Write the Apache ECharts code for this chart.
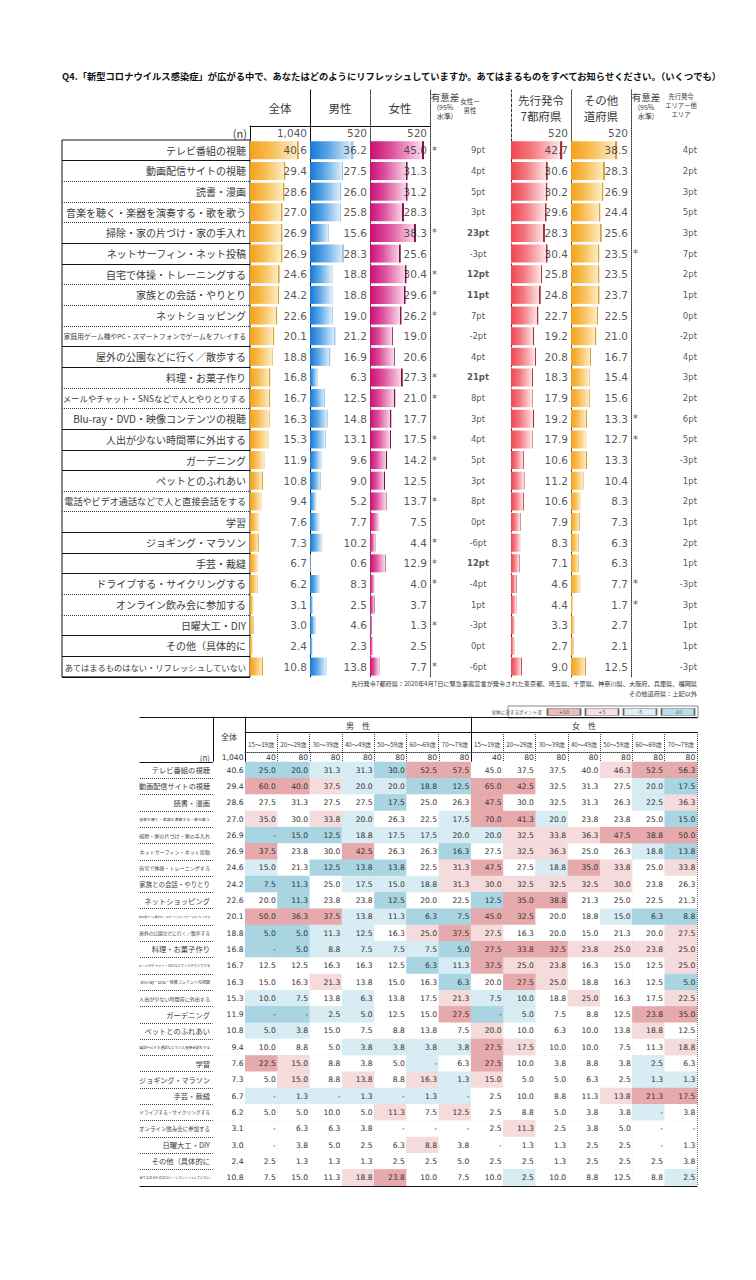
<!DOCTYPE html>
<html><head><meta charset="utf-8">
<script src="https://cdn.jsdelivr.net/npm/echarts@6/dist/echarts.min.js"></script>
<style>html,body{margin:0;padding:0;background:#fff}#c{width:756px;height:1280px}</style>
</head><body><div id="c"></div>
<script>
// ---------------- DATA ----------------
const TITLE = 'Q4.「新型コロナウイルス感染症」が広がる中で、あなたはどのようにリフレッシュしていますか。あてはまるものをすべてお知らせください。（いくつでも）';
const NOTE1 = '先行発令7都府県：2020年4月7日に緊急事態宣言が発令された東京都、埼玉県、千葉県、神奈川県、大阪府、兵庫県、福岡県';
const NOTE2 = 'その他道府県：上記以外';
const ITEMS = ['テレビ番組の視聴','動画配信サイトの視聴','読書・漫画','音楽を聴く・楽器を演奏する・歌を歌う','掃除・家の片づけ・家の手入れ','ネットサーフィン・ネット投稿','自宅で体操・トレーニングする','家族との会話・やりとり','ネットショッピング','家庭用ゲーム機やPC・スマートフォンでゲームをプレイする','屋外の公園などに行く／散歩する','料理・お菓子作り','メールやチャット・SNSなどで人とやりとりする','Blu-ray・DVD・映像コンテンツの視聴','人出が少ない時間帯に外出する','ガーデニング','ペットとのふれあい','電話やビデオ通話などで人と直接会話をする','学習','ジョギング・マラソン','手芸・裁縫','ドライブする・サイクリングする','オンライン飲み会に参加する','日曜大工・DIY','その他（具体的に','あてはまるものはない・リフレッシュしていない'];
const HEAD_UPPER = ['全体','男性','女性','先行発令\n7都府県','その他\n道府県'];
const N_UPPER = [1040, 520, 520, 520, 520];
const TOTAL  = [40.6,29.4,28.6,27.0,26.9,26.9,24.6,24.2,22.6,20.1,18.8,16.8,16.7,16.3,15.3,11.9,10.8,9.4,7.6,7.3,6.7,6.2,3.1,3.0,2.4,10.8];
const MALE   = [36.2,27.5,26.0,25.8,15.6,28.3,18.8,18.8,19.0,21.2,16.9,6.3,12.5,14.8,13.1,9.6,9.0,5.2,7.7,10.2,0.6,8.3,2.5,4.6,2.3,13.8];
const FEMALE = [45.0,31.3,31.2,28.3,38.3,25.6,30.4,29.6,26.2,19.0,20.6,27.3,21.0,17.7,17.5,14.2,12.5,13.7,7.5,4.4,12.9,4.0,3.7,1.3,2.5,7.7];
const SIG_GENDER  = [1,0,0,0,1,0,1,1,1,0,0,1,1,0,1,1,0,1,0,1,1,1,0,1,0,1];
const DIFF_GENDER = [9,4,5,3,23,-3,12,11,7,-2,4,21,8,3,4,5,3,8,0,-6,12,-4,1,-3,0,-6];
const PREF   = [42.7,30.6,30.2,29.6,28.3,30.4,25.8,24.8,22.7,19.2,20.8,18.3,17.9,19.2,17.9,10.6,11.2,10.6,7.9,8.3,7.1,4.6,4.4,3.3,2.7,9.0];
const OTHER  = [38.5,28.3,26.9,24.4,25.6,23.5,23.5,23.7,22.5,21.0,16.7,15.4,15.6,13.3,12.7,13.3,10.4,8.3,7.3,6.3,6.3,7.7,1.7,2.7,2.1,12.5];
const SIG_AREA  = [0,0,0,0,0,1,0,0,0,0,0,0,0,1,1,0,0,0,0,0,0,1,1,0,0,0];
const DIFF_AREA = [4,2,3,5,3,7,2,1,0,-2,4,3,2,6,5,-3,1,2,1,2,1,-3,3,1,1,-3];

const AGE_LABELS = ['15～19歳','20～29歳','30～39歳','40～49歳','50～59歳','60～69歳','70～79歳'];
const GROUP_LABELS = ['男　性','女　性'];
const N_LOWER = [1040, 40,80,80,80,80,80,80, 40,80,80,80,80,80,80];
const MALE_AGE = [
[25.0,20.0,31.3,31.3,30.0,52.5,57.5],[60.0,40.0,37.5,20.0,20.0,18.8,12.5],[27.5,31.3,27.5,27.5,17.5,25.0,26.3],
[35.0,30.0,33.8,20.0,26.3,22.5,17.5],[null,15.0,12.5,18.8,17.5,17.5,20.0],[37.5,23.8,30.0,42.5,26.3,26.3,16.3],
[15.0,21.3,12.5,13.8,13.8,22.5,31.3],[7.5,11.3,25.0,17.5,15.0,18.8,31.3],[20.0,11.3,23.8,23.8,12.5,20.0,22.5],
[50.0,36.3,37.5,13.8,11.3,6.3,7.5],[5.0,5.0,11.3,12.5,16.3,25.0,37.5],[null,5.0,8.8,7.5,7.5,7.5,5.0],
[12.5,12.5,16.3,16.3,12.5,6.3,11.3],[15.0,16.3,21.3,13.8,15.0,16.3,6.3],[10.0,7.5,13.8,6.3,13.8,17.5,21.3],
[null,null,2.5,5.0,12.5,15.0,27.5],[5.0,3.8,15.0,7.5,8.8,13.8,7.5],[10.0,8.8,5.0,3.8,3.8,3.8,3.8],
[22.5,15.0,8.8,3.8,5.0,null,6.3],[5.0,15.0,8.8,13.8,8.8,16.3,1.3],[null,1.3,null,1.3,null,1.3,null],
[5.0,5.0,10.0,5.0,11.3,7.5,12.5],[null,6.3,6.3,3.8,null,null,null],[null,3.8,5.0,2.5,6.3,8.8,3.8],
[2.5,1.3,1.3,1.3,2.5,2.5,5.0],[7.5,15.0,11.3,18.8,23.8,10.0,7.5]];
const FEMALE_AGE = [
[45.0,37.5,37.5,40.0,46.3,52.5,56.3],[65.0,42.5,32.5,31.3,27.5,20.0,17.5],[47.5,30.0,32.5,31.3,26.3,22.5,36.3],
[70.0,41.3,20.0,23.8,23.8,25.0,15.0],[20.0,32.5,33.8,36.3,47.5,38.8,50.0],[27.5,32.5,36.3,25.0,26.3,18.8,13.8],
[47.5,27.5,18.8,35.0,33.8,25.0,33.8],[30.0,32.5,32.5,32.5,30.0,23.8,26.3],[12.5,35.0,38.8,21.3,25.0,22.5,21.3],
[45.0,32.5,20.0,18.8,15.0,6.3,8.8],[27.5,16.3,20.0,15.0,21.3,20.0,27.5],[27.5,33.8,32.5,23.8,25.0,23.8,25.0],
[37.5,25.0,23.8,16.3,15.0,12.5,25.0],[20.0,27.5,25.0,18.8,16.3,12.5,5.0],[7.5,10.0,18.8,25.0,16.3,17.5,22.5],
[null,5.0,7.5,8.8,12.5,23.8,35.0],[20.0,10.0,6.3,10.0,13.8,18.8,12.5],[27.5,17.5,10.0,10.0,7.5,11.3,18.8],
[27.5,10.0,3.8,8.8,3.8,2.5,6.3],[15.0,5.0,5.0,6.3,2.5,1.3,1.3],[2.5,10.0,8.8,11.3,13.8,21.3,17.5],
[2.5,8.8,5.0,3.8,3.8,null,3.8],[2.5,11.3,2.5,3.8,5.0,null,null],[null,1.3,1.3,2.5,2.5,null,1.3],
[2.5,2.5,1.3,2.5,2.5,2.5,3.8],[10.0,2.5,10.0,8.8,12.5,8.8,2.5]];
const LEGEND_TITLE = '全体に対するポイント差';
const LEGEND_LABELS = ['+10','+5','-5','-10'];

// ---------------- STYLE / LAYOUT ----------------
const FJP = '"Noto Sans CJK JP", "Noto Sans", sans-serif';
const FNUM = '"DejaVu Sans", Verdana, sans-serif';
const INK = '#2a2a2a';
const INK_JP = '#3a3a3a';
const HEAT = {dp:'#e6aaad', lp:'#f5dbdc', lb:'#d7ecf3', db:'#a9d5e3'};
const UP_TOP = 140, UP_ROW = 20.65, UP_H = UP_ROW * ITEMS.length, UP_BOT = UP_TOP + UP_H;
const HEAD_TOP = 90, N_TOP = 126;
const COL_W = 60, COL_MAX = 50;
const SOLID_AFTER = new Set([1,5,6,10,11,14,15,16,19,20,21,24,25]);
const LOW_TOP = 762, LOW_ROW = 16.3, LOW_H = LOW_ROW * ITEMS.length, LOW_BOT = LOW_TOP + LOW_H;
const LOW_LEFT = 213, LOW_W = 484;
const BAR_STYLE = [
  {left:250, stops:['#f4a11a','#f8bb4f','#fdebc2'], edge:'#d6a03c'},
  {left:310, stops:['#1778d6','#55a3e6','#dcedfa'], edge:'#9cc7ee'},
  {left:370, stops:['#c90f73','#dd4f9c','#f9d6ea'], edge:'#7d1049'},
  {left:511, stops:['#ef4650','#f4777e','#fde4e5'], edge:'#a3303a'},
  {left:571, stops:['#f4a11a','#f8bb4f','#fdebc2'], edge:'#d6a03c'}
];
const BAR_DATA = [TOTAL, MALE, FEMALE, PREF, OTHER];
const HEAD_MARGIN = [24, 24, 24, 16, 16];

// ---------------- BUILD ----------------
const grid = [], xAxis = [], yAxis = [], series = [];
function addGrid(g){ grid.push(Object.assign({show:false, containLabel:false, outerBoundsMode:'none'}, g)); return grid.length - 1; }
function hidVal(gi, min, max){ return {type:'value', gridIndex:gi, min:min||0, max:max==null?1:max, show:false}; }
function cat(gi, data, extra){
  return Object.assign({type:'category', gridIndex:gi, data, inverse:true,
    axisLine:{show:false}, axisTick:{show:false}, axisLabel:{show:false}, splitLine:{show:false}}, extra||{});
}
function vline(x, y1, y2, type, w, c){
  const gi = addGrid({left:x, top:y1, width:1, height:y2 - y1});
  xAxis.push(hidVal(gi));
  yAxis.push({type:'value', gridIndex:gi, min:0, max:1, position:'left',
    axisLine:{show:true, onZero:false, lineStyle:{color:c||'#111', width:w||1, type:type||'solid'}},
    axisTick:{show:false}, axisLabel:{show:false}, splitLine:{show:false}});
}
function hline(x1, x2, y, type, w, c){
  const gi = addGrid({left:x1, top:y, width:x2 - x1, height:1});
  xAxis.push({type:'value', gridIndex:gi, min:0, max:1, position:'top',
    axisLine:{show:true, onZero:false, lineStyle:{color:c||'#111', width:w||1, type:type||'solid'}},
    axisTick:{show:false}, axisLabel:{show:false}, splitLine:{show:false}});
  yAxis.push(hidVal(gi));
}
function emLen(s){ let n = 0; for (const ch of s) n += ch.charCodeAt(0) < 0x2000 ? 0.56 : 1; return n; }
function fitRich(maxW, maxSize){
  const rich = {};
  ITEMS.forEach((t, i) => { rich['r' + i] = {fontSize: Math.min(maxSize, maxW / emLen(t)), fontFamily: FJP, color: INK_JP}; });
  return rich;
}
const fmtN = v => v.toLocaleString('en-US');
const DOT = [1, 1];

// ===== upper table: label column (box + row separators) =====
{
  const gi = addGrid({left:62, top:UP_TOP, width:188, height:UP_H, show:true, borderColor:'#111', borderWidth:1});
  xAxis.push(hidVal(gi));
  yAxis.push(cat(gi, ITEMS, {splitLine:{show:true, interval:(i) => i >= 1 && i <= 25 && !SOLID_AFTER.has(i), lineStyle:{color:'#333', type:DOT, width:1}}}));
  yAxis.push(cat(gi, ITEMS, {splitLine:{show:true, interval:(i) => SOLID_AFTER.has(i), lineStyle:{color:'#111', type:'solid', width:1}}}));
}

// ===== upper table: bar columns =====
BAR_DATA.forEach((arr, k) => {
  const st = BAR_STYLE[k];
  const gi = addGrid({left:st.left, top:UP_TOP, width:COL_W, height:UP_H});
  const xi = xAxis.push({type:'value', gridIndex:gi, min:0, max:COL_MAX, show:false}) - 1;
  xAxis.push({type:'category', gridIndex:gi, position:'top', data:[HEAD_UPPER[k]],
    axisLine:{show:false}, axisTick:{show:false},
    axisLabel:{show:true, interval:0, margin:HEAD_MARGIN[k], fontSize:11.5, lineHeight:16, color:INK_JP, fontFamily:FJP}});
  const yExtra = k === 0 ? {axisLabel:{show:true, interval:0, margin:4, formatter:(v, i) => `{r${i}|${v}}`, rich:fitRich(182, 10)}} : {};
  const yi = yAxis.push(cat(gi, ITEMS, yExtra)) - 1;
  series.push({type:'bar', xAxisIndex:xi, yAxisIndex:yi, data:arr, barWidth:18, silent:true,
    itemStyle:{color:new echarts.graphic.LinearGradient(0, 0, 1, 0, [
      {offset:0, color:st.stops[0]}, {offset:0.4, color:st.stops[1]}, {offset:0.955, color:st.stops[2]},
      {offset:0.955, color:st.edge}, {offset:1, color:st.edge}])}});
  series.push({type:'scatter', xAxisIndex:xi, yAxisIndex:yi, data:arr.map((v, i) => [COL_MAX, i]), symbolSize:0, silent:true, z:5,
    label:{show:true, position:'left', distance:3, formatter:p => arr[p.dataIndex].toFixed(1), fontSize:10.5, color:INK, fontFamily:FNUM}});
  // n row
  const gn = addGrid({left:st.left, top:N_TOP, width:COL_W, height:UP_TOP - N_TOP});
  const xn = xAxis.push({type:'value', gridIndex:gn, min:0, max:COL_MAX, show:false}) - 1;
  const yn = yAxis.push(cat(gn, ['(n)'], k === 0 ? {axisLabel:{show:true, margin:3, fontSize:11, color:INK_JP, fontFamily:FJP}} : {})) - 1;
  series.push({type:'scatter', xAxisIndex:xn, yAxisIndex:yn, data:[[COL_MAX, 0]], symbolSize:0, silent:true,
    label:{show:true, position:'left', distance:3, formatter:() => fmtN(N_UPPER[k]), fontSize:10.5, color:INK, fontFamily:FNUM}});
});

// ===== upper table: significance / difference columns =====
const SIG_HEAD = '{a|有意差}\n{b|(95%}\n{b|水準)}';
const SIG_RICH = {a:{fontSize:9.5, lineHeight:11, color:INK_JP, fontFamily:FJP}, b:{fontSize:7, lineHeight:9, color:INK_JP, fontFamily:FJP}};
function textColumn(left, width, head, headLabel, data, xPos, pos, fmt, styleFn){
  const gi = addGrid({left, top:UP_TOP, width, height:UP_H});
  const xi = xAxis.push(hidVal(gi)) - 1;
  xAxis.push({type:'category', gridIndex:gi, position:'top', data:[head], axisLine:{show:false}, axisTick:{show:false},
    axisLabel:Object.assign({show:true, interval:0, color:INK_JP, fontFamily:FJP}, headLabel)});
  const yi = yAxis.push(cat(gi, ITEMS)) - 1;
  const pts = [];
  data.forEach((v, i) => { const t = fmt(v); if (t !== '') pts.push({value:[xPos, i], text:t, label:styleFn ? styleFn(v) : {}}); });
  series.push({type:'scatter', xAxisIndex:xi, yAxisIndex:yi, symbolSize:0, silent:true, z:5,
    data:pts.map(p => ({value:p.value, label:p.label})),
    label:{show:true, position:pos, distance:2, formatter:p => pts[p.dataIndex].text, fontSize:8.5, color:INK, fontFamily:FNUM}});
}
const ptStyle = v => ({fontWeight: Math.abs(v) >= 10 ? 'bold' : 'normal'});
textColumn(430, 30, SIG_HEAD, {margin:20, rich:SIG_RICH}, SIG_GENDER, 0, 'right', v => v ? '*' : '', () => ({fontSize:10}));
textColumn(455, 46, '女性ー\n男性', {margin:26, fontSize:6.5, lineHeight:9, padding:[0,16,0,0]}, DIFF_GENDER, 0.5, 'inside', v => v + 'pt', ptStyle);
textColumn(631, 30, SIG_HEAD, {margin:20, rich:SIG_RICH}, SIG_AREA, 0, 'right', v => v ? '*' : '', () => ({fontSize:10}));
textColumn(655, 44, '先行発令\nエリアー他\nエリア', {margin:21, fontSize:6.3, lineHeight:9, padding:[0,0,0,8]}, DIFF_AREA, 1, 'left', v => v + 'pt', ptStyle);

// upper dividers
vline(310, HEAD_TOP, UP_BOT, 'solid');
vline(370, HEAD_TOP, UP_BOT, DOT, 1, '#333');
vline(430, HEAD_TOP, UP_BOT, DOT, 1, '#333');
vline(511, HEAD_TOP, UP_BOT, [3, 2], 1, '#333');
vline(571, HEAD_TOP, UP_BOT, DOT, 1, '#333');
vline(631, HEAD_TOP, UP_BOT, DOT, 1, '#333');
vline(250, N_TOP, UP_TOP, 'solid');
hline(250, 430, N_TOP, 'solid');

// ===== legend for lower table =====
{
  const gb = addGrid({left:508, top:706, width:190, height:12, show:true, borderColor:'#888', borderWidth:1});
  xAxis.push(hidVal(gb)); yAxis.push(hidVal(gb));
  const gi = addGrid({left:545, top:708, width:152, height:8});
  const xi = xAxis.push(cat(gi, LEGEND_LABELS, {inverse:false})) - 1;
  const yi = yAxis.push(cat(gi, [LEGEND_TITLE], {axisLabel:{show:true, margin:3, fontSize:4.6, color:INK_JP, fontFamily:FJP}})) - 1;
  const cols = [HEAT.dp, HEAT.lp, HEAT.lb, HEAT.db];
  series.push({type:'scatter', xAxisIndex:xi, yAxisIndex:yi, symbol:'rect', symbolSize:[33, 7], silent:true,
    data:LEGEND_LABELS.map((t, i) => ({value:[i, 0], itemStyle:{color:cols[i]}})),
    itemStyle:{borderColor:'#444', borderWidth:0.8},
    label:{show:true, position:'inside', formatter:p => LEGEND_LABELS[p.dataIndex], fontSize:5, color:INK, fontFamily:FNUM}});
}

// ===== lower table =====
const COLS = ['全体'].concat(AGE_LABELS.map(a => '男性' + a), AGE_LABELS.map(a => '女性' + a));
const AGE14 = AGE_LABELS.concat(AGE_LABELS);
// row separators across label + cells
{
  const gi = addGrid({left:140, top:LOW_TOP, width:557, height:LOW_H});
  xAxis.push(hidVal(gi));
  yAxis.push(cat(gi, ITEMS, {splitLine:{show:true, interval:(i) => i >= 1 && i <= 25, lineStyle:{color:'#444', type:DOT, width:1}}}));
}
// heat cells
let heatIndex;
{
  const gi = addGrid({left:LOW_LEFT, top:LOW_TOP, width:LOW_W, height:LOW_H});
  const xi = xAxis.push(cat(gi, COLS, {inverse:false, splitLine:{show:true, interval:(i) => (i >= 2 && i <= 7) || (i >= 9 && i <= 14), lineStyle:{color:'#444', type:DOT, width:1}}})) - 1;
  const yi = yAxis.push(cat(gi, ITEMS, {axisLabel:{show:true, interval:0, margin:3, formatter:(v, i) => `{r${i}|${v}}`, rich:fitRich(71, 7.3)}})) - 1;
  const data = [];
  ITEMS.forEach((_, r) => {
    const row = [TOTAL[r]].concat(MALE_AGE[r], FEMALE_AGE[r]);
    row.forEach((v, c) => data.push([c, r, v == null ? 0 : v, c === 0 ? 0 : (v == null ? 0 : v) - TOTAL[r], v == null ? 1 : 0]));
  });
  heatIndex = series.length;
  series.push({type:'heatmap', xAxisIndex:xi, yAxisIndex:yi, data, silent:true, itemStyle:{borderWidth:0},
    label:{show:true, position:'insideRight', distance:2, formatter:p => p.data[4] ? '-' : p.data[2].toFixed(1), fontSize:7.6, color:'#333', fontFamily:FNUM}});
}
// header: 全体
{
  const gi = addGrid({left:LOW_LEFT, top:717, width:32, height:35});
  xAxis.push({type:'category', gridIndex:gi, position:'top', data:['全体'], axisLine:{show:false}, axisTick:{show:false},
    axisLabel:{show:true, margin:-23, fontSize:8, color:INK_JP, fontFamily:FJP}});
  yAxis.push(hidVal(gi));
}
// header: 男性 / 女性
{
  const gi = addGrid({left:245, top:717, width:452, height:15});
  xAxis.push({type:'category', gridIndex:gi, position:'top', data:GROUP_LABELS, axisLine:{show:false}, axisTick:{show:false},
    axisLabel:{show:true, interval:0, margin:-12, fontSize:8, color:INK_JP, fontFamily:FJP}});
  yAxis.push(hidVal(gi));
}
// header: age labels
{
  const gi = addGrid({left:245, top:732, width:452, height:20});
  xAxis.push({type:'category', gridIndex:gi, position:'top', data:AGE14, axisLine:{show:false}, axisTick:{show:false},
    axisLabel:{show:true, interval:0, margin:-16, fontSize:6.2, color:INK_JP, fontFamily:FJP},
    splitLine:{show:true, interval:(i) => (i >= 1 && i <= 6) || (i >= 8 && i <= 13), lineStyle:{color:'#444', type:DOT, width:1}}});
  xAxis.push({type:'category', gridIndex:gi, position:'bottom', data:AGE14,
    axisLine:{show:true, onZero:false, lineStyle:{color:'#444', type:DOT, width:1}}, axisTick:{show:false}, axisLabel:{show:false}});
  yAxis.push(hidVal(gi));
}
// header: n row
{
  const gi = addGrid({left:LOW_LEFT, top:752, width:LOW_W, height:10});
  const xi = xAxis.push(cat(gi, COLS, {inverse:false, splitLine:{show:true, interval:(i) => (i >= 2 && i <= 7) || (i >= 9 && i <= 14), lineStyle:{color:'#444', type:DOT, width:1}}})) - 1;
  const yi = yAxis.push(cat(gi, ['(n)'], {axisLabel:{show:true, margin:3, fontSize:8, color:INK_JP, fontFamily:FJP}})) - 1;
  series.push({type:'heatmap', xAxisIndex:xi, yAxisIndex:yi, silent:true,
    data:N_LOWER.map((v, c) => [c, 0, v]), itemStyle:{color:'rgba(0,0,0,0)', borderWidth:0},
    label:{show:true, position:'insideRight', distance:2, formatter:p => fmtN(p.data[2]), fontSize:7.6, color:'#333', fontFamily:FNUM}});
}
// lower frame lines
vline(LOW_LEFT, 717, LOW_BOT, 'solid');
vline(245, 717, LOW_BOT, 'solid');
vline(471, 717, LOW_BOT, 'solid');
hline(140, 697, 717, 'solid');
hline(245, 697, 732, 'solid');
hline(140, 697, LOW_TOP, 'solid');
hline(140, 697, LOW_BOT, 'solid');

const option = {
  animation:false,
  backgroundColor:'#fff',
  textStyle:{fontFamily:FJP},
  title:[
    {text:TITLE, left:62, top:71, padding:0, textStyle:{fontSize:9.3, fontWeight:'bold', color:'#111', fontFamily:FJP}},
    {text:NOTE1, right:59, top:680, padding:0, textStyle:{fontSize:6.2, fontWeight:'normal', color:'#333', fontFamily:FJP}},
    {text:NOTE2, right:59, top:690, padding:0, textStyle:{fontSize:6.2, fontWeight:'normal', color:'#333', fontFamily:FJP}}
  ],
  visualMap:[{type:'piecewise', show:false, seriesIndex:[heatIndex], dimension:3,
    pieces:[{gte:10, color:HEAT.dp}, {gte:5, lt:10, color:HEAT.lp}, {gt:-5, lt:5, color:'#ffffff'}, {gt:-10, lte:-5, color:HEAT.lb}, {lte:-10, color:HEAT.db}]}],
  grid, xAxis, yAxis, series
};
const chart = echarts.init(document.getElementById('c'), null, {renderer:'svg'});
chart.setOption(option);
</script>
</body></html>
